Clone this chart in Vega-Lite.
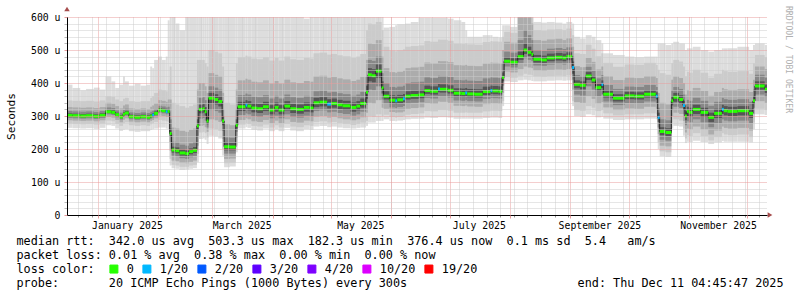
{
"$schema":"https://vega.github.io/schema/vega-lite/v6.json",
"width":700,"height":198,
"autosize":{"type":"none"},
"padding":{"left":67,"top":17,"right":30,"bottom":82},
"background":"#ffffff",
"config":{"view":{"stroke":null},"font":"DejaVu Sans Mono"},
"datasets":{"ping":[
{"t":"2024-12-16","e":"2024-12-19","m":302,"l":"0","a1":264,"b1":395,"a2":277,"b2":347,"a3":287,"b3":327,"a4":294,"b4":315,"a5":298,"b5":308},
{"t":"2024-12-19","e":"2024-12-23","m":301,"l":"0","a1":263,"b1":385,"a2":276,"b2":346,"a3":286,"b3":326,"a4":293,"b4":314,"a5":297,"b5":307},
{"t":"2024-12-23","e":"2024-12-26","m":300,"l":"0","a1":262,"b1":378,"a2":275,"b2":345,"a3":285,"b3":325,"a4":292,"b4":313,"a5":296,"b5":306},
{"t":"2024-12-26","e":"2024-12-30","m":301,"l":"0","a1":263,"b1":382,"a2":276,"b2":346,"a3":286,"b3":326,"a4":293,"b4":314,"a5":297,"b5":307},
{"t":"2024-12-30","e":"2025-01-02","m":299,"l":"0","a1":261,"b1":386,"a2":274,"b2":344,"a3":284,"b3":324,"a4":291,"b4":312,"a5":295,"b5":305},
{"t":"2025-01-02","e":"2025-01-05","m":302,"l":"0","a1":264,"b1":380,"a2":277,"b2":347,"a3":287,"b3":327,"a4":294,"b4":315,"a5":298,"b5":308},
{"t":"2025-01-05","e":"2025-01-08","m":313,"l":"0","a1":272,"b1":420,"a2":286,"b2":360,"a3":297,"b3":340,"a4":305,"b4":326,"a5":309,"b5":319},
{"t":"2025-01-08","e":"2025-01-10","m":311,"l":"0","a1":270,"b1":405,"a2":284,"b2":358,"a3":295,"b3":337,"a4":303,"b4":324,"a5":307,"b5":317},
{"t":"2025-01-10","e":"2025-01-12","m":304,"l":"0","a1":262,"b1":385,"a2":276,"b2":350,"a3":288,"b3":330,"a4":296,"b4":317,"a5":300,"b5":310},
{"t":"2025-01-12","e":"2025-01-14","m":297,"l":"0","a1":255,"b1":395,"a2":270,"b2":345,"a3":281,"b3":323,"a4":289,"b4":310,"a5":293,"b5":303},
{"t":"2025-01-14","e":"2025-01-15","m":305,"l":"0","a1":258,"b1":420,"a2":278,"b2":352,"a3":289,"b3":332,"a4":297,"b4":318,"a5":301,"b5":311},
{"t":"2025-01-15","e":"2025-01-17","m":309,"l":"0","a1":260,"b1":405,"a2":281,"b2":355,"a3":293,"b3":335,"a4":301,"b4":322,"a5":305,"b5":315},
{"t":"2025-01-17","e":"2025-01-20","m":298,"l":"0","a1":254,"b1":392,"a2":272,"b2":345,"a3":283,"b3":323,"a4":290,"b4":311,"a5":294,"b5":304},
{"t":"2025-01-20","e":"2025-01-23","m":296,"l":"0","a1":252,"b1":398,"a2":270,"b2":343,"a3":281,"b3":321,"a4":288,"b4":309,"a5":292,"b5":302},
{"t":"2025-01-23","e":"2025-01-26","m":298,"l":"0","a1":254,"b1":392,"a2":272,"b2":345,"a3":283,"b3":323,"a4":290,"b4":311,"a5":294,"b5":304},
{"t":"2025-01-26","e":"2025-01-28","m":296,"l":"0","a1":254,"b1":395,"a2":270,"b2":345,"a3":281,"b3":321,"a4":288,"b4":309,"a5":292,"b5":302},
{"t":"2025-01-28","e":"2025-01-29","m":300,"l":"0","a1":258,"b1":450,"a2":275,"b2":355,"a3":285,"b3":328,"a4":292,"b4":313,"a5":296,"b5":306},
{"t":"2025-01-29","e":"2025-01-30","m":303,"l":"1/20","a1":260,"b1":445,"a2":278,"b2":360,"a3":288,"b3":332,"a4":295,"b4":316,"a5":299,"b5":309},
{"t":"2025-01-30","e":"2025-02-01","m":308,"l":"0","a1":262,"b1":470,"a2":282,"b2":370,"a3":293,"b3":338,"a4":300,"b4":321,"a5":304,"b5":314},
{"t":"2025-02-01","e":"2025-02-03","m":318,"l":"0","a1":265,"b1":480,"a2":288,"b2":380,"a3":301,"b3":348,"a4":310,"b4":331,"a5":314,"b5":324},
{"t":"2025-02-03","e":"2025-02-05","m":316,"l":"0","a1":265,"b1":470,"a2":286,"b2":378,"a3":300,"b3":346,"a4":308,"b4":329,"a5":312,"b5":322},
{"t":"2025-02-05","e":"2025-02-06","m":313,"l":"1/20","a1":262,"b1":480,"a2":284,"b2":375,"a3":297,"b3":343,"a4":305,"b4":326,"a5":309,"b5":319},
{"t":"2025-02-06","e":"2025-02-07","m":314,"l":"0","a1":260,"b1":590,"a2":282,"b2":400,"a3":297,"b3":350,"a4":306,"b4":328,"a5":310,"b5":320},
{"t":"2025-02-07","e":"2025-02-08","m":247,"l":"0","a1":150,"b1":620,"a2":170,"b2":450,"a3":195,"b3":350,"a4":220,"b4":290,"a5":238,"b5":262},
{"t":"2025-02-08","e":"2025-02-10","m":197,"l":"0","a1":142,"b1":620,"a2":152,"b2":340,"a3":165,"b3":265,"a4":180,"b4":222,"a5":189,"b5":207},
{"t":"2025-02-10","e":"2025-02-12","m":195,"l":"0","a1":140,"b1":580,"a2":150,"b2":335,"a3":163,"b3":262,"a4":178,"b4":220,"a5":187,"b5":205},
{"t":"2025-02-12","e":"2025-02-15","m":188,"l":"0","a1":136,"b1":560,"a2":146,"b2":330,"a3":158,"b3":255,"a4":172,"b4":213,"a5":180,"b5":198},
{"t":"2025-02-15","e":"2025-02-17","m":186,"l":"0","a1":138,"b1":620,"a2":146,"b2":325,"a3":157,"b3":252,"a4":170,"b4":210,"a5":178,"b5":196},
{"t":"2025-02-17","e":"2025-02-19","m":192,"l":"0","a1":140,"b1":620,"a2":150,"b2":330,"a3":161,"b3":258,"a4":175,"b4":217,"a5":184,"b5":202},
{"t":"2025-02-19","e":"2025-02-21","m":196,"l":"0","a1":142,"b1":620,"a2":152,"b2":335,"a3":165,"b3":262,"a4":179,"b4":221,"a5":188,"b5":206},
{"t":"2025-02-21","e":"2025-02-22","m":270,"l":"0","a1":160,"b1":620,"a2":185,"b2":470,"a3":210,"b3":380,"a4":240,"b4":320,"a5":258,"b5":290},
{"t":"2025-02-22","e":"2025-02-24","m":320,"l":"0","a1":230,"b1":620,"a2":250,"b2":470,"a3":270,"b3":400,"a4":292,"b4":355,"a5":308,"b5":334},
{"t":"2025-02-24","e":"2025-02-25","m":322,"l":"0","a1":232,"b1":620,"a2":252,"b2":470,"a3":272,"b3":400,"a4":294,"b4":357,"a5":310,"b5":336},
{"t":"2025-02-25","e":"2025-02-26","m":313,"l":"0","a1":228,"b1":620,"a2":248,"b2":460,"a3":266,"b3":390,"a4":286,"b4":348,"a5":301,"b5":327},
{"t":"2025-02-26","e":"2025-02-27","m":285,"l":"0","a1":215,"b1":620,"a2":235,"b2":450,"a3":252,"b3":370,"a4":265,"b4":320,"a5":275,"b5":300},
{"t":"2025-02-27","e":"2025-03-02","m":354,"l":"0","a1":240,"b1":620,"a2":262,"b2":500,"a3":290,"b3":430,"a4":318,"b4":390,"a5":338,"b5":370},
{"t":"2025-03-02","e":"2025-03-04","m":350,"l":"0","a1":238,"b1":620,"a2":260,"b2":495,"a3":287,"b3":425,"a4":315,"b4":386,"a5":335,"b5":366},
{"t":"2025-03-04","e":"2025-03-06","m":344,"l":"0","a1":232,"b1":620,"a2":255,"b2":490,"a3":282,"b3":420,"a4":310,"b4":380,"a5":329,"b5":360},
{"t":"2025-03-06","e":"2025-03-07","m":285,"l":"0","a1":180,"b1":620,"a2":200,"b2":450,"a3":230,"b3":370,"a4":255,"b4":320,"a5":272,"b5":300},
{"t":"2025-03-07","e":"2025-03-10","m":207,"l":"0","a1":145,"b1":620,"a2":157,"b2":340,"a3":170,"b3":275,"a4":186,"b4":235,"a5":196,"b5":220},
{"t":"2025-03-10","e":"2025-03-13","m":206,"l":"0","a1":147,"b1":620,"a2":158,"b2":335,"a3":171,"b3":272,"a4":186,"b4":234,"a5":196,"b5":219},
{"t":"2025-03-13","e":"2025-03-14","m":272,"l":"0","a1":190,"b1":620,"a2":210,"b2":460,"a3":235,"b3":380,"a4":252,"b4":320,"a5":262,"b5":290},
{"t":"2025-03-14","e":"2025-03-18","m":328,"l":"0","a1":262,"b1":620,"a2":274,"b2":478,"a3":288,"b3":408,"a4":303,"b4":363,"a5":315,"b5":343},
{"t":"2025-03-18","e":"2025-03-19","m":333,"l":"1/20","a1":266,"b1":620,"a2":279,"b2":483,"a3":293,"b3":413,"a4":308,"b4":368,"a5":320,"b5":348},
{"t":"2025-03-19","e":"2025-03-21","m":330,"l":"0","a1":264,"b1":600,"a2":276,"b2":480,"a3":290,"b3":410,"a4":305,"b4":365,"a5":317,"b5":345},
{"t":"2025-03-21","e":"2025-03-24","m":324,"l":"0","a1":258,"b1":620,"a2":270,"b2":474,"a3":284,"b3":404,"a4":299,"b4":359,"a5":311,"b5":339},
{"t":"2025-03-24","e":"2025-03-27","m":322,"l":"0","a1":256,"b1":620,"a2":268,"b2":472,"a3":282,"b3":402,"a4":297,"b4":357,"a5":309,"b5":337},
{"t":"2025-03-27","e":"2025-03-30","m":328,"l":"0","a1":262,"b1":620,"a2":274,"b2":478,"a3":288,"b3":408,"a4":303,"b4":363,"a5":315,"b5":343},
{"t":"2025-03-30","e":"2025-04-02","m":318,"l":"0","a1":254,"b1":620,"a2":265,"b2":468,"a3":278,"b3":398,"a4":293,"b4":353,"a5":305,"b5":333},
{"t":"2025-04-02","e":"2025-04-04","m":326,"l":"0","a1":260,"b1":620,"a2":272,"b2":476,"a3":286,"b3":406,"a4":301,"b4":361,"a5":313,"b5":341},
{"t":"2025-04-04","e":"2025-04-07","m":318,"l":"0","a1":254,"b1":620,"a2":265,"b2":468,"a3":278,"b3":398,"a4":293,"b4":353,"a5":305,"b5":333},
{"t":"2025-04-07","e":"2025-04-10","m":330,"l":"0","a1":264,"b1":620,"a2":276,"b2":480,"a3":290,"b3":410,"a4":305,"b4":365,"a5":317,"b5":345},
{"t":"2025-04-10","e":"2025-04-13","m":322,"l":"0","a1":256,"b1":620,"a2":268,"b2":472,"a3":282,"b3":402,"a4":297,"b4":357,"a5":309,"b5":337},
{"t":"2025-04-13","e":"2025-04-17","m":320,"l":"0","a1":254,"b1":620,"a2":266,"b2":470,"a3":280,"b3":400,"a4":295,"b4":355,"a5":307,"b5":335},
{"t":"2025-04-17","e":"2025-04-20","m":326,"l":"0","a1":260,"b1":595,"a2":272,"b2":476,"a3":286,"b3":406,"a4":301,"b4":361,"a5":313,"b5":341},
{"t":"2025-04-20","e":"2025-04-22","m":324,"l":"0","a1":258,"b1":620,"a2":270,"b2":474,"a3":284,"b3":404,"a4":299,"b4":359,"a5":311,"b5":339},
{"t":"2025-04-22","e":"2025-04-25","m":340,"l":"0","a1":268,"b1":620,"a2":282,"b2":490,"a3":298,"b3":420,"a4":315,"b4":375,"a5":327,"b5":355},
{"t":"2025-04-25","e":"2025-04-29","m":342,"l":"0","a1":270,"b1":620,"a2":284,"b2":492,"a3":300,"b3":422,"a4":317,"b4":377,"a5":329,"b5":357},
{"t":"2025-04-29","e":"2025-05-01","m":336,"l":"1/20","a1":266,"b1":620,"a2":280,"b2":486,"a3":295,"b3":416,"a4":311,"b4":371,"a5":323,"b5":351},
{"t":"2025-05-01","e":"2025-05-04","m":338,"l":"0","a1":268,"b1":620,"a2":282,"b2":488,"a3":297,"b3":418,"a4":313,"b4":373,"a5":325,"b5":353},
{"t":"2025-05-04","e":"2025-05-07","m":334,"l":"0","a1":265,"b1":620,"a2":279,"b2":484,"a3":293,"b3":414,"a4":309,"b4":369,"a5":321,"b5":349},
{"t":"2025-05-07","e":"2025-05-11","m":331,"l":"0","a1":263,"b1":620,"a2":276,"b2":481,"a3":290,"b3":411,"a4":306,"b4":366,"a5":318,"b5":346},
{"t":"2025-05-11","e":"2025-05-14","m":326,"l":"0","a1":262,"b1":620,"a2":273,"b2":476,"a3":287,"b3":406,"a4":301,"b4":361,"a5":313,"b5":341},
{"t":"2025-05-14","e":"2025-05-16","m":330,"l":"0","a1":264,"b1":620,"a2":276,"b2":480,"a3":290,"b3":410,"a4":305,"b4":365,"a5":317,"b5":345},
{"t":"2025-05-16","e":"2025-05-19","m":338,"l":"0","a1":265,"b1":620,"a2":280,"b2":488,"a3":296,"b3":418,"a4":313,"b4":373,"a5":325,"b5":353},
{"t":"2025-05-19","e":"2025-05-20","m":372,"l":"0","a1":270,"b1":620,"a2":285,"b2":560,"a3":310,"b3":470,"a4":335,"b4":420,"a5":352,"b5":392},
{"t":"2025-05-20","e":"2025-05-22","m":425,"l":"0","a1":280,"b1":620,"a2":300,"b2":580,"a3":340,"b3":520,"a4":380,"b4":470,"a5":405,"b5":445},
{"t":"2025-05-22","e":"2025-05-24","m":422,"l":"0","a1":280,"b1":620,"a2":298,"b2":578,"a3":338,"b3":518,"a4":378,"b4":467,"a5":402,"b5":442},
{"t":"2025-05-24","e":"2025-05-27","m":436,"l":"0","a1":285,"b1":620,"a2":305,"b2":585,"a3":348,"b3":530,"a4":390,"b4":480,"a5":416,"b5":456},
{"t":"2025-05-27","e":"2025-05-28","m":385,"l":"0","a1":285,"b1":600,"a2":300,"b2":560,"a3":325,"b3":480,"a4":350,"b4":430,"a5":368,"b5":405},
{"t":"2025-05-28","e":"2025-05-31","m":360,"l":"0","a1":290,"b1":568,"a2":304,"b2":510,"a3":322,"b3":445,"a4":338,"b4":400,"a5":350,"b5":375},
{"t":"2025-05-31","e":"2025-06-03","m":348,"l":"0","a1":285,"b1":570,"a2":297,"b2":498,"a3":312,"b3":433,"a4":326,"b4":388,"a5":338,"b5":363},
{"t":"2025-06-03","e":"2025-06-04","m":346,"l":"1/20","a1":284,"b1":575,"a2":295,"b2":496,"a3":310,"b3":431,"a4":324,"b4":386,"a5":336,"b5":361},
{"t":"2025-06-04","e":"2025-06-07","m":349,"l":"0","a1":286,"b1":578,"a2":297,"b2":499,"a3":311,"b3":434,"a4":327,"b4":389,"a5":339,"b5":364},
{"t":"2025-06-07","e":"2025-06-08","m":352,"l":"1/20","a1":288,"b1":578,"a2":300,"b2":502,"a3":314,"b3":437,"a4":330,"b4":392,"a5":342,"b5":367},
{"t":"2025-06-08","e":"2025-06-11","m":360,"l":"0","a1":290,"b1":580,"a2":304,"b2":510,"a3":322,"b3":445,"a4":338,"b4":400,"a5":350,"b5":375},
{"t":"2025-06-11","e":"2025-06-15","m":362,"l":"0","a1":292,"b1":585,"a2":306,"b2":512,"a3":324,"b3":447,"a4":340,"b4":402,"a5":352,"b5":377},
{"t":"2025-06-15","e":"2025-06-18","m":364,"l":"0","a1":292,"b1":598,"a2":308,"b2":514,"a3":326,"b3":449,"a4":342,"b4":404,"a5":354,"b5":379},
{"t":"2025-06-18","e":"2025-06-21","m":377,"l":"0","a1":295,"b1":598,"a2":315,"b2":527,"a3":339,"b3":462,"a4":355,"b4":417,"a5":367,"b5":392},
{"t":"2025-06-21","e":"2025-06-25","m":375,"l":"0","a1":294,"b1":598,"a2":314,"b2":525,"a3":337,"b3":460,"a4":353,"b4":415,"a5":365,"b5":390},
{"t":"2025-06-25","e":"2025-06-26","m":382,"l":"1/20","a1":296,"b1":598,"a2":318,"b2":532,"a3":344,"b3":467,"a4":360,"b4":422,"a5":372,"b5":397},
{"t":"2025-06-26","e":"2025-06-30","m":381,"l":"0","a1":296,"b1":598,"a2":318,"b2":531,"a3":343,"b3":466,"a4":359,"b4":421,"a5":371,"b5":396},
{"t":"2025-06-30","e":"2025-07-03","m":378,"l":"0","a1":295,"b1":595,"a2":316,"b2":528,"a3":340,"b3":463,"a4":356,"b4":418,"a5":368,"b5":393},
{"t":"2025-07-03","e":"2025-07-07","m":369,"l":"0","a1":292,"b1":590,"a2":310,"b2":519,"a3":331,"b3":454,"a4":347,"b4":409,"a5":359,"b5":384},
{"t":"2025-07-07","e":"2025-07-09","m":368,"l":"0","a1":292,"b1":585,"a2":310,"b2":518,"a3":330,"b3":453,"a4":346,"b4":408,"a5":358,"b5":383},
{"t":"2025-07-09","e":"2025-07-10","m":370,"l":"1/20","a1":292,"b1":560,"a2":311,"b2":520,"a3":332,"b3":455,"a4":348,"b4":410,"a5":360,"b5":385},
{"t":"2025-07-10","e":"2025-07-14","m":367,"l":"0","a1":292,"b1":540,"a2":310,"b2":517,"a3":329,"b3":452,"a4":345,"b4":407,"a5":357,"b5":382},
{"t":"2025-07-14","e":"2025-07-18","m":366,"l":"0","a1":292,"b1":540,"a2":310,"b2":516,"a3":328,"b3":451,"a4":344,"b4":406,"a5":356,"b5":381},
{"t":"2025-07-18","e":"2025-07-22","m":374,"l":"0","a1":294,"b1":545,"a2":314,"b2":524,"a3":336,"b3":459,"a4":352,"b4":414,"a5":364,"b5":389},
{"t":"2025-07-22","e":"2025-07-23","m":377,"l":"1/20","a1":295,"b1":545,"a2":316,"b2":527,"a3":339,"b3":462,"a4":355,"b4":417,"a5":367,"b5":392},
{"t":"2025-07-23","e":"2025-07-26","m":376,"l":"0","a1":295,"b1":540,"a2":316,"b2":526,"a3":338,"b3":461,"a4":354,"b4":416,"a5":366,"b5":391},
{"t":"2025-07-26","e":"2025-07-28","m":375,"l":"0","a1":294,"b1":538,"a2":315,"b2":525,"a3":337,"b3":460,"a4":353,"b4":415,"a5":365,"b5":390},
{"t":"2025-07-28","e":"2025-07-29","m":417,"l":"0","a1":330,"b1":575,"a2":345,"b2":540,"a3":370,"b3":500,"a4":392,"b4":460,"a5":405,"b5":432},
{"t":"2025-07-29","e":"2025-08-01","m":466,"l":"0","a1":405,"b1":575,"a2":418,"b2":555,"a3":435,"b3":525,"a4":450,"b4":495,"a5":459,"b5":478},
{"t":"2025-08-01","e":"2025-08-05","m":463,"l":"0","a1":403,"b1":570,"a2":416,"b2":552,"a3":432,"b3":522,"a4":447,"b4":492,"a5":456,"b5":475},
{"t":"2025-08-05","e":"2025-08-08","m":480,"l":"0","a1":408,"b1":620,"a2":422,"b2":620,"a3":442,"b3":600,"a4":460,"b4":530,"a5":470,"b5":495},
{"t":"2025-08-08","e":"2025-08-10","m":500,"l":"0","a1":410,"b1":620,"a2":428,"b2":620,"a3":450,"b3":610,"a4":475,"b4":560,"a5":488,"b5":520},
{"t":"2025-08-10","e":"2025-08-12","m":493,"l":"0","a1":408,"b1":620,"a2":425,"b2":620,"a3":447,"b3":600,"a4":470,"b4":545,"a5":482,"b5":510},
{"t":"2025-08-12","e":"2025-08-13","m":487,"l":"0","a1":406,"b1":620,"a2":423,"b2":610,"a3":445,"b3":580,"a4":466,"b4":530,"a5":477,"b5":500},
{"t":"2025-08-13","e":"2025-08-17","m":472,"l":"0","a1":405,"b1":585,"a2":420,"b2":560,"a3":438,"b3":530,"a4":453,"b4":500,"a5":462,"b5":485},
{"t":"2025-08-17","e":"2025-08-20","m":470,"l":"0","a1":405,"b1":583,"a2":419,"b2":558,"a3":437,"b3":528,"a4":452,"b4":498,"a5":461,"b5":483},
{"t":"2025-08-20","e":"2025-08-24","m":476,"l":"0","a1":407,"b1":585,"a2":421,"b2":562,"a3":440,"b3":532,"a4":456,"b4":504,"a5":466,"b5":489},
{"t":"2025-08-24","e":"2025-08-28","m":478,"l":"0","a1":408,"b1":583,"a2":422,"b2":563,"a3":441,"b3":534,"a4":458,"b4":506,"a5":468,"b5":491},
{"t":"2025-08-28","e":"2025-08-30","m":476,"l":"0","a1":407,"b1":580,"a2":421,"b2":560,"a3":440,"b3":530,"a4":456,"b4":503,"a5":466,"b5":489},
{"t":"2025-08-30","e":"2025-09-02","m":480,"l":"0","a1":408,"b1":585,"a2":423,"b2":565,"a3":442,"b3":535,"a4":459,"b4":508,"a5":469,"b5":493},
{"t":"2025-09-02","e":"2025-09-03","m":447,"l":"1/20","a1":330,"b1":580,"a2":345,"b2":545,"a3":380,"b3":510,"a4":410,"b4":480,"a5":428,"b5":465},
{"t":"2025-09-03","e":"2025-09-06","m":396,"l":"0","a1":300,"b1":540,"a2":318,"b2":490,"a3":342,"b3":451,"a4":365,"b4":424,"a5":384,"b5":408},
{"t":"2025-09-06","e":"2025-09-09","m":393,"l":"0","a1":298,"b1":535,"a2":316,"b2":488,"a3":340,"b3":448,"a4":362,"b4":421,"a5":381,"b5":405},
{"t":"2025-09-09","e":"2025-09-12","m":421,"l":"0","a1":305,"b1":545,"a2":330,"b2":516,"a3":360,"b3":476,"a4":390,"b4":449,"a5":409,"b5":433},
{"t":"2025-09-12","e":"2025-09-14","m":409,"l":"0","a1":302,"b1":540,"a2":325,"b2":504,"a3":352,"b3":464,"a4":380,"b4":437,"a5":398,"b5":421},
{"t":"2025-09-14","e":"2025-09-17","m":386,"l":"0","a1":296,"b1":530,"a2":315,"b2":481,"a3":338,"b3":441,"a4":360,"b4":414,"a5":376,"b5":398},
{"t":"2025-09-17","e":"2025-09-18","m":396,"l":"1/20","a1":298,"b1":520,"a2":318,"b2":490,"a3":342,"b3":450,"a4":365,"b4":424,"a5":385,"b5":408},
{"t":"2025-09-18","e":"2025-09-23","m":366,"l":"0","a1":292,"b1":490,"a2":308,"b2":461,"a3":326,"b3":421,"a4":344,"b4":394,"a5":356,"b5":378},
{"t":"2025-09-23","e":"2025-09-29","m":354,"l":"0","a1":288,"b1":485,"a2":302,"b2":449,"a3":318,"b3":409,"a4":333,"b4":382,"a5":344,"b5":366},
{"t":"2025-09-29","e":"2025-10-04","m":361,"l":"0","a1":290,"b1":480,"a2":305,"b2":456,"a3":323,"b3":416,"a4":339,"b4":389,"a5":351,"b5":373},
{"t":"2025-10-04","e":"2025-10-09","m":360,"l":"0","a1":290,"b1":478,"a2":305,"b2":455,"a3":322,"b3":415,"a4":338,"b4":388,"a5":350,"b5":372},
{"t":"2025-10-09","e":"2025-10-15","m":366,"l":"0","a1":292,"b1":480,"a2":308,"b2":461,"a3":328,"b3":421,"a4":344,"b4":394,"a5":356,"b5":378},
{"t":"2025-10-15","e":"2025-10-16","m":360,"l":"1/20","a1":290,"b1":480,"a2":305,"b2":455,"a3":322,"b3":415,"a4":338,"b4":388,"a5":350,"b5":372},
{"t":"2025-10-16","e":"2025-10-17","m":296,"l":"1/20","a1":200,"b1":520,"a2":220,"b2":440,"a3":245,"b3":370,"a4":265,"b4":325,"a5":282,"b5":310},
{"t":"2025-10-17","e":"2025-10-20","m":253,"l":"0","a1":178,"b1":520,"a2":193,"b2":430,"a3":210,"b3":340,"a4":228,"b4":290,"a5":242,"b5":266},
{"t":"2025-10-20","e":"2025-10-23","m":250,"l":"0","a1":176,"b1":515,"a2":190,"b2":425,"a3":208,"b3":335,"a4":225,"b4":287,"a5":239,"b5":263},
{"t":"2025-10-23","e":"2025-10-24","m":346,"l":"0","a1":262,"b1":520,"a2":280,"b2":460,"a3":300,"b3":410,"a4":318,"b4":378,"a5":332,"b5":360},
{"t":"2025-10-24","e":"2025-10-27","m":357,"l":"0","a1":270,"b1":525,"a2":290,"b2":470,"a3":310,"b3":420,"a4":328,"b4":388,"a5":343,"b5":370},
{"t":"2025-10-27","e":"2025-10-29","m":350,"l":"0","a1":268,"b1":520,"a2":286,"b2":465,"a3":306,"b3":415,"a4":324,"b4":382,"a5":337,"b5":363},
{"t":"2025-10-29","e":"2025-10-30","m":332,"l":"1/20","a1":240,"b1":520,"a2":262,"b2":450,"a3":285,"b3":400,"a4":305,"b4":365,"a5":318,"b5":346},
{"t":"2025-10-30","e":"2025-10-31","m":300,"l":"0","a1":218,"b1":500,"a2":232,"b2":420,"a3":250,"b3":365,"a4":272,"b4":335,"a5":287,"b5":314},
{"t":"2025-10-31","e":"2025-11-01","m":314,"l":"0","a1":222,"b1":505,"a2":242,"b2":434,"a3":262,"b3":379,"a4":284,"b4":349,"a5":300,"b5":328},
{"t":"2025-11-01","e":"2025-11-03","m":311,"l":"0","a1":221,"b1":505,"a2":239,"b2":431,"a3":259,"b3":376,"a4":281,"b4":346,"a5":297,"b5":325},
{"t":"2025-11-03","e":"2025-11-07","m":320,"l":"0","a1":225,"b1":510,"a2":248,"b2":440,"a3":268,"b3":385,"a4":290,"b4":355,"a5":306,"b5":334},
{"t":"2025-11-07","e":"2025-11-11","m":311,"l":"0","a1":221,"b1":500,"a2":239,"b2":431,"a3":259,"b3":376,"a4":281,"b4":346,"a5":297,"b5":325},
{"t":"2025-11-11","e":"2025-11-14","m":296,"l":"0","a1":215,"b1":495,"a2":226,"b2":416,"a3":244,"b3":361,"a4":266,"b4":331,"a5":282,"b5":310},
{"t":"2025-11-14","e":"2025-11-18","m":308,"l":"0","a1":220,"b1":500,"a2":236,"b2":428,"a3":256,"b3":373,"a4":278,"b4":343,"a5":294,"b5":322},
{"t":"2025-11-18","e":"2025-11-19","m":320,"l":"1/20","a1":224,"b1":505,"a2":248,"b2":440,"a3":268,"b3":385,"a4":290,"b4":355,"a5":306,"b5":334},
{"t":"2025-11-19","e":"2025-11-21","m":316,"l":"0","a1":222,"b1":505,"a2":244,"b2":436,"a3":264,"b3":381,"a4":286,"b4":351,"a5":302,"b5":330},
{"t":"2025-11-21","e":"2025-11-26","m":314,"l":"0","a1":222,"b1":505,"a2":242,"b2":434,"a3":262,"b3":379,"a4":284,"b4":349,"a5":300,"b5":328},
{"t":"2025-11-26","e":"2025-12-02","m":316,"l":"0","a1":222,"b1":510,"a2":244,"b2":436,"a3":264,"b3":381,"a4":286,"b4":351,"a5":302,"b5":330},
{"t":"2025-12-02","e":"2025-12-04","m":308,"l":"0","a1":220,"b1":500,"a2":236,"b2":428,"a3":256,"b3":373,"a4":278,"b4":343,"a5":294,"b5":322},
{"t":"2025-12-04","e":"2025-12-05","m":346,"l":"0","a1":260,"b1":515,"a2":280,"b2":460,"a3":305,"b3":410,"a4":325,"b4":380,"a5":336,"b5":360},
{"t":"2025-12-05","e":"2025-12-10","m":391,"l":"0","a1":305,"b1":520,"a2":322,"b2":485,"a3":345,"b3":450,"a4":365,"b4":425,"a5":380,"b5":405},
{"t":"2025-12-10","e":"2025-12-11T04:45:47Z","m":381,"l":"0","a1":303,"b1":515,"a2":318,"b2":478,"a3":340,"b3":442,"a4":358,"b4":416,"a5":370,"b5":395}
]},
"data":{"name":"ping"},
"layer":[
{"mark":{"type":"rect","color":"#dddddd","clip":true},
 "encoding":{
  "x":{"field":"t","type":"temporal","scale":{"type":"utc","domain":[{"year":2024,"month":12,"date":16,"hours":4,"minutes":45,"seconds":47,"utc":true},{"year":2025,"month":12,"date":11,"hours":4,"minutes":45,"seconds":47,"utc":true}]},
   "axis":{"orient":"bottom","tickCount":{"interval":"week","step":1},"grid":true,"gridColor":"#cccccc","gridDash":[1,1],"labels":false,"ticks":true,"tickSize":2,"tickColor":"#999999","domain":true,"domainColor":"#000000","title":null,"zindex":1}},
  "x2":{"field":"e"},
  "y":{"field":"a1","type":"quantitative","scale":{"domain":[0,600],"nice":false},
   "axis":{"orient":"left","values":[0,20,40,60,80,100,120,140,160,180,200,220,240,260,280,300,320,340,360,380,400,420,440,460,480,500,520,540,560,580,600],
    "labelExpr":"datum.value % 100 === 0 ? (datum.value === 0 ? '0' : datum.value + ' u') : ''",
    "grid":true,"gridColor":{"condition":{"test":"datum.value % 100 === 0","value":"#e89c9c"},"value":"#cccccc"},"gridDash":[1,1],
    "ticks":true,"tickSize":3,"tickColor":{"condition":{"test":"datum.value % 100 === 0","value":"#e89c9c"},"value":"#bbbbbb"},
    "domain":true,"domainColor":"#000000","labelFont":"DejaVu Sans Mono","labelFontSize":9.8,"labelColor":"#000000","labelPadding":4,"labelOverlap":false,
    "title":"Seconds","titleFont":"DejaVu Sans Mono","titleFontSize":11.1,"titleFontWeight":"normal","titleColor":"#000000","titleX":-56,"titleY":99,"titleAngle":270,"titleAlign":"center","titleBaseline":"middle","zindex":1}},
  "y2":{"field":"b1"}}},
{"mark":{"type":"rect","color":"#cbcbcb","clip":true},
 "encoding":{
  "x":{"field":"t","type":"temporal","scale":{"type":"utc","domain":[{"year":2024,"month":12,"date":16,"hours":4,"minutes":45,"seconds":47,"utc":true},{"year":2025,"month":12,"date":11,"hours":4,"minutes":45,"seconds":47,"utc":true}]},
   "axis":{"orient":"bottom","tickCount":{"interval":"month","step":1},"grid":true,"gridColor":"#e89c9c","gridDash":[1,1],"labels":false,"ticks":true,"tickSize":3,"tickColor":"#e89c9c","domain":false,"title":null,"zindex":1}},
  "x2":{"field":"e"},
  "y":{"field":"a2","type":"quantitative","scale":{"domain":[0,600],"nice":false},"axis":null},
  "y2":{"field":"b2"}}},
{"mark":{"type":"rect","color":"#acacac","clip":true},
 "encoding":{
  "x":{"field":"t","type":"temporal","scale":{"type":"utc","domain":[{"year":2024,"month":12,"date":16,"hours":4,"minutes":45,"seconds":47,"utc":true},{"year":2025,"month":12,"date":11,"hours":4,"minutes":45,"seconds":47,"utc":true}]},
   "axis":{"orient":"bottom","values":[{"year":2025,"month":1,"date":16,"utc":true},{"year":2025,"month":3,"date":16,"utc":true},{"year":2025,"month":5,"date":16,"utc":true},{"year":2025,"month":7,"date":16,"utc":true},{"year":2025,"month":9,"date":16,"utc":true},{"year":2025,"month":11,"date":16,"utc":true}],
    "labelExpr":"utcFormat(datum.value, '%B %Y')","grid":false,"ticks":false,"domain":false,"labelPadding":5,"labelFont":"DejaVu Sans Mono","labelFontSize":9.8,"labelColor":"#000000","labelFlush":false,"labelOverlap":false,
    "title":["median rtt:\u00a0\u00a0342.0 us avg\u00a0\u00a0503.3 us max\u00a0\u00a0182.3 us min\u00a0\u00a0376.4 us now\u00a0\u00a00.1 ms sd\u00a0\u00a05.4\u00a0\u00a0\u00a0am/s","packet loss: 0.01 % avg\u00a0\u00a00.38 % max\u00a0\u00a00.00 % min\u00a0\u00a00.00 % now","loss color:","probe:\u00a0\u00a0\u00a0\u00a0\u00a0\u00a0\u00a020 ICMP Echo Pings (1000 Bytes) every 300s\u00a0\u00a0\u00a0\u00a0\u00a0\u00a0\u00a0\u00a0\u00a0\u00a0\u00a0\u00a0\u00a0\u00a0\u00a0\u00a0\u00a0\u00a0\u00a0\u00a0\u00a0\u00a0\u00a0\u00a0end: Thu Dec 11 04:45:47 2025"],
    "titleFont":"DejaVu Sans Mono","titleFontSize":11.8,"titleFontWeight":"normal","titleColor":"#000000","titleX":-51,"titleY":20,"titleAlign":"left","titleBaseline":"top","titleAngle":0,"titleLineHeight":14,"zindex":1}},
  "x2":{"field":"e"},
  "y":{"field":"a3","type":"quantitative","scale":{"domain":[0,600],"nice":false},"axis":null},
  "y2":{"field":"b3"}}},
{"mark":{"type":"rect","color":"#878787","clip":true},
 "encoding":{
  "x":{"field":"t","type":"temporal","scale":{"type":"utc","domain":[{"year":2024,"month":12,"date":16,"hours":4,"minutes":45,"seconds":47,"utc":true},{"year":2025,"month":12,"date":11,"hours":4,"minutes":45,"seconds":47,"utc":true}]},"axis":null},
  "x2":{"field":"e"},
  "y":{"field":"a4","type":"quantitative","scale":{"domain":[0,600],"nice":false},"axis":null},
  "y2":{"field":"b4"}}},
{"mark":{"type":"rect","color":"#555555","clip":true},
 "encoding":{
  "x":{"field":"t","type":"temporal","scale":{"type":"utc","domain":[{"year":2024,"month":12,"date":16,"hours":4,"minutes":45,"seconds":47,"utc":true},{"year":2025,"month":12,"date":11,"hours":4,"minutes":45,"seconds":47,"utc":true}]},"axis":null},
  "x2":{"field":"e"},
  "y":{"field":"a5","type":"quantitative","scale":{"domain":[0,600],"nice":false},"axis":null},
  "y2":{"field":"b5"}}},
{"mark":{"type":"line","interpolate":"step-after","color":"#202020","strokeWidth":1,"clip":true},
 "encoding":{
  "x":{"field":"t","type":"temporal","scale":{"type":"utc","domain":[{"year":2024,"month":12,"date":16,"hours":4,"minutes":45,"seconds":47,"utc":true},{"year":2025,"month":12,"date":11,"hours":4,"minutes":45,"seconds":47,"utc":true}]},"axis":null},
  "y":{"field":"m","type":"quantitative","scale":{"domain":[0,600],"nice":false},"axis":null}}},
{"mark":{"type":"rule","strokeWidth":3,"clip":true},
 "encoding":{
  "x":{"field":"t","type":"temporal","scale":{"type":"utc","domain":[{"year":2024,"month":12,"date":16,"hours":4,"minutes":45,"seconds":47,"utc":true},{"year":2025,"month":12,"date":11,"hours":4,"minutes":45,"seconds":47,"utc":true}]},"axis":null},
  "x2":{"field":"e"},
  "y":{"field":"m","type":"quantitative","scale":{"domain":[0,600],"nice":false},
   "axis":{"orient":"right","title":"RRDTOOL / TOBI OETIKER","labels":false,"ticks":false,"domain":false,"grid":false,"titleColor":"#b0b0b0","titleFont":"DejaVu Sans Mono","titleFontSize":8.1,"titleFontWeight":"normal","titleAngle":90,"titleX":20,"titleY":42,"titleAlign":"center","titleBaseline":"middle"}},
  "color":{"field":"l","type":"nominal",
   "scale":{"domain":["0","1/20","2/20","3/20","4/20","10/20","19/20"],"range":["#26ff00","#00b8ff","#0059ff","#5e00ff","#7e00ff","#dd00ff","#ff0000"]},
   "legend":{"orient":"none","legendX":41,"legendY":246,"direction":"horizontal","columns":7,"title":null,"padding":0,
    "symbolType":"square","symbolSize":64,"symbolStrokeWidth":1,"labelFont":"DejaVu Sans Mono","labelFontSize":11.8,"labelColor":"#000000","labelOffset":7,"columnPadding":6,
    "encode":{"symbols":{"update":{"fill":{"scale":"color","field":"value"},"stroke":{"value":"#000000"},"strokeWidth":{"value":1},"opacity":{"value":1},"fillOpacity":{"value":1}}}}}}}},
{"data":{"values":[{}]},
 "mark":{"type":"point","shape":"triangle-right","filled":true,"color":"#800000","size":30,"xOffset":3,"clip":false},
 "encoding":{
  "x":{"datum":{"year":2025,"month":12,"date":11,"hours":4,"minutes":45,"seconds":47,"utc":true},"type":"temporal","scale":{"type":"utc","domain":[{"year":2024,"month":12,"date":16,"hours":4,"minutes":45,"seconds":47,"utc":true},{"year":2025,"month":12,"date":11,"hours":4,"minutes":45,"seconds":47,"utc":true}]},"axis":null},
  "y":{"datum":0,"type":"quantitative","scale":{"domain":[0,600],"nice":false},"axis":null}}},
{"data":{"values":[{}]},
 "mark":{"type":"point","shape":"triangle-up","filled":true,"color":"#800000","size":30,"yOffset":-8,"clip":false},
 "encoding":{
  "x":{"datum":{"year":2024,"month":12,"date":16,"hours":4,"minutes":45,"seconds":47,"utc":true},"type":"temporal","scale":{"type":"utc","domain":[{"year":2024,"month":12,"date":16,"hours":4,"minutes":45,"seconds":47,"utc":true},{"year":2025,"month":12,"date":11,"hours":4,"minutes":45,"seconds":47,"utc":true}]},"axis":null},
  "y":{"datum":600,"type":"quantitative","scale":{"domain":[0,600],"nice":false},"axis":null}}}
],
"resolve":{"axis":{"x":"independent","y":"independent"}}
}
